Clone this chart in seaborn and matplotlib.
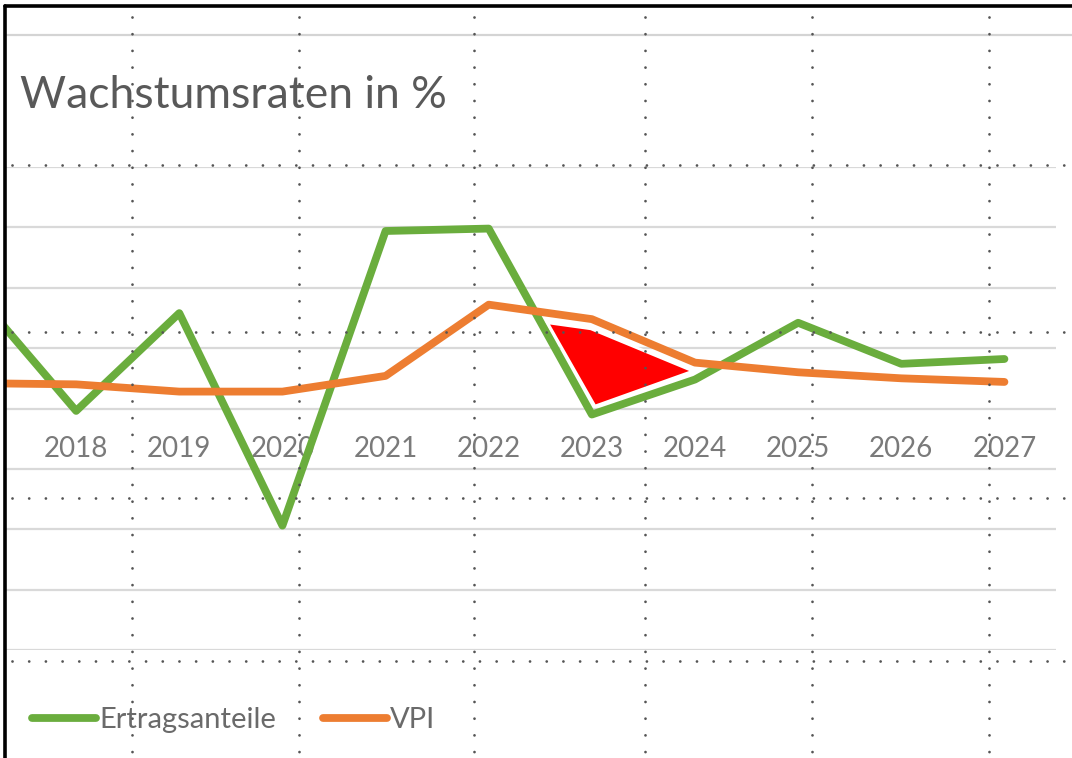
import pandas as pd
import matplotlib
matplotlib.use("Agg")
import matplotlib.pyplot as plt
from matplotlib.lines import Line2D
import seaborn as sns

# Wachstumsraten in % (2017 liegt links ausserhalb des Ausschnitts)
jahre = [2017, 2018, 2019, 2020, 2021, 2022, 2023, 2024, 2025, 2026, 2027]
ertragsanteile = [9.8, -0.2, 7.9, -9.7, 14.7, 14.9, -0.5, 2.4, 7.1, 3.7, 4.1]
vpi = [2.1, 2.0, 1.4, 1.4, 2.7, 8.6, 7.4, 3.8, 3.0, 2.5, 2.2]
reihen = ["Ertragsanteile", "VPI"]
farben = ["#6AAD3D", "#ED7D31"]

# rot markierte Fläche zwischen den Linien 2022-2024
markierung_x = [2022.57, 2022.99, 2023.98, 2023.03]
markierung_y = [7.1, 6.6, 3.1, 0.2]

df = pd.DataFrame({"Jahr": jahre * 2,
                   "Wert": ertragsanteile + vpi,
                   "Reihe": [reihen[0]] * len(jahre) + [reihen[1]] * len(jahre)})

sns.set_style("white")
plt.rcParams["font.family"] = ["Lato", "DejaVu Sans"]

W, H = 1072, 758
fig = plt.figure(figsize=(W / 100, H / 100), dpi=100)
ax = fig.add_axes([6 / W, 1 - 650 / H, (1056 - 6) / W, (650 - 167) / H])

sns.lineplot(data=df, x="Jahr", y="Wert", hue="Reihe", hue_order=reihen,
             palette=farben, linewidth=5.6, ax=ax, legend=True)

ax.fill(markierung_x, markierung_y, facecolor="#FF0000", edgecolor="white",
        linewidth=2, zorder=5)

ax.set_xlim(2017.32, 2027.5)
ax.set_ylim(-20, 20)
ax.set_yticks(range(-20, 21, 5))
ax.set_yticklabels([])
ax.set_xticks(jahre[1:])
ax.set_xticklabels([str(j) for j in jahre[1:]])
ax.grid(axis="y", color="#D9D9D9", linewidth=1.6)
ax.grid(axis="x", visible=False)
for s in ax.spines.values():
    s.set_visible(False)
ax.spines["bottom"].set_position(("data", 0))
ax.tick_params(axis="x", length=0, pad=20, labelsize=20, labelcolor="#7A7A7A")
ax.tick_params(axis="y", length=0)
ax.set_xlabel("")
ax.set_ylabel("")

handles, labels = ax.get_legend_handles_labels()
ax.get_legend().remove()
for h, c in zip(handles, farben):
    h.set_linewidth(5.6)
    h.set_color(c)
    h.set_solid_capstyle("round")
fig.legend(handles, labels, loc="center left", bbox_to_anchor=(32 / W, 1 - 720 / H),
           frameon=False, ncol=2, fontsize=21, handlelength=2.2, handletextpad=0.1,
           columnspacing=1.6, borderpad=0, borderaxespad=0, labelcolor="#6A6A6A")

fig.text(20 / W, 1 - 96 / H, "Wachstumsraten in %", fontsize=32, color="#595959",
         va="center", ha="left")

# Rahmen und Hilfslinien des Folien-Ausschnitts
fig.add_artist(Line2D([6 / W, 1], [1 - 35 / H] * 2, color="#D4D4D4", lw=1.6))
dots = (0, (0.01, 6.0))
for y in [165, 332, 498, 661]:
    fig.add_artist(Line2D([12 / W, 1], [1 - y / H] * 2, color="#555555", lw=2.0,
                          linestyle=dots, dash_capstyle="round", zorder=10))
for x in [132, 299, 474, 645, 812, 989]:
    fig.add_artist(Line2D([x / W] * 2, [1 - 17 / H, 0], color="#555555", lw=2.0,
                          linestyle=dots, dash_capstyle="round", zorder=10))
fig.add_artist(Line2D([5 / W, 1], [1 - 6 / H] * 2, color="black", lw=2.6))
fig.add_artist(Line2D([5 / W] * 2, [1 - 6 / H, 0], color="black", lw=2.6))

fig.savefig("out.png", dpi=100)
